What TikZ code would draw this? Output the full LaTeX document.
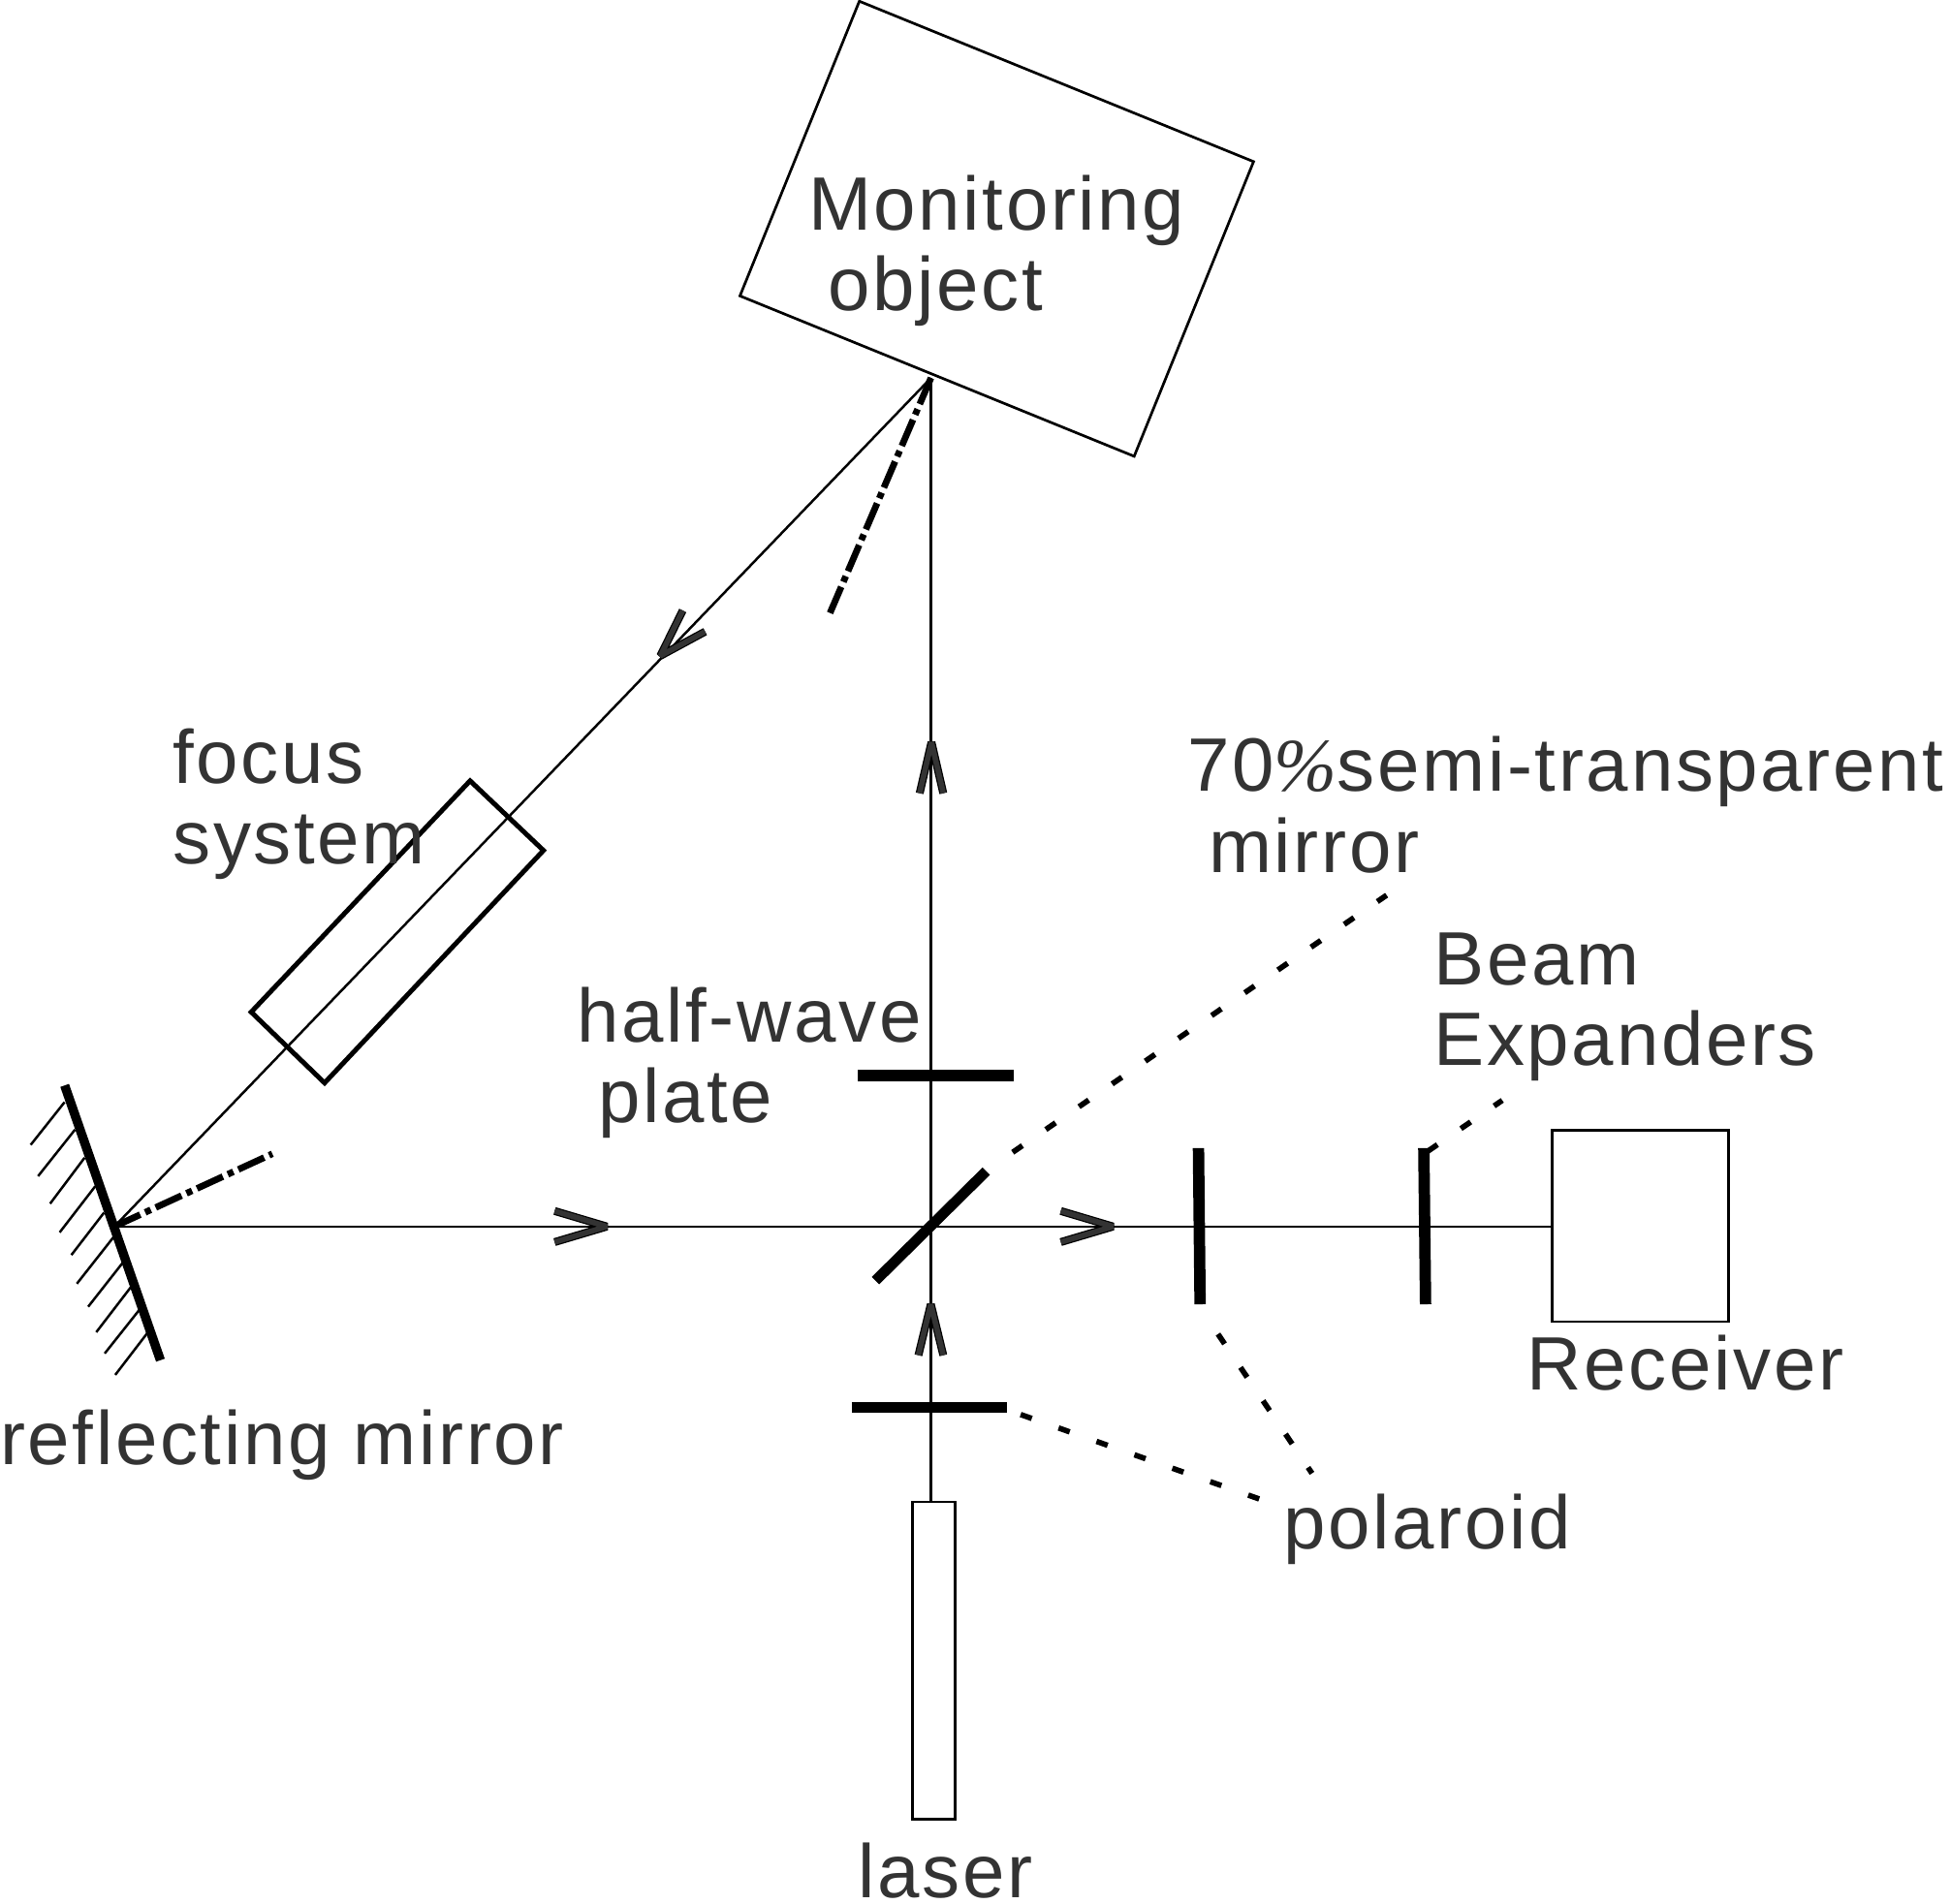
\documentclass[tikz,border=0pt]{standalone}
\usepackage{fontspec}
\setmainfont{Liberation Sans}[LetterSpace=3.4]
\newfontfamily\pctfont{Liberation Serif Italic}
\definecolor{txt}{HTML}{333333}
\tikzset{
  lab/.style={anchor=base west,inner sep=0pt,outer sep=0pt,text=txt,font=\fontsize{17.3pt}{20pt}\selectfont},
  thin line/.style={draw=black,line width=0.55pt},
  boxthin/.style={draw=black,line width=0.6pt,fill=none,inner sep=0pt,outer sep=0pt},
  boxfocus/.style={draw=black,line width=1.1pt,line join=miter},
  plate/.style={draw=black,line width=2.6pt},
  mirrorbar/.style={draw=black,line width=2.1pt},
  hatch/.style={draw=black,line width=0.55pt},
  dotleader/.style={draw=black,line width=1.25pt,dash pattern=on 2.7pt off 6.5pt},
  dashdot/.style={draw=black,line width=1.5pt,dash pattern=on 6.5pt off 1.25pt on 1.4pt off 1.25pt},
  vhead/.style={draw=black,line width=1.8pt,line join=bevel,postaction={draw=txt,line width=1.25pt,line join=bevel}},
}
\begin{document}
\begin{tikzpicture}[x=0.01cm,y=-0.01cm]
\useasboundingbox (0,0) rectangle (1568,1531);
% key points
\coordinate (P) at (748.6,304);
\coordinate (M) at (92,986.5);
\coordinate (S) at (748.6,986.5);
% boxes
\node[boxthin,minimum width=0.34cm,minimum height=2.55cm] (laserbox) at (751,1335.5) {};
\node[boxthin,minimum width=1.42cm,minimum height=1.54cm] (receiverbox) at (1319,986) {};
\coordinate (Lt) at (laserbox.north -| S);
\coordinate (Rw) at (receiverbox.west |- S);
\coordinate (ma) at (691,1); \coordinate (mb) at (1008,130);
\coordinate (mc) at (912,367); \coordinate (md) at (595,238);
\draw[boxthin] (ma) -- (mb) -- (mc) -- (md) -- cycle;
\coordinate (fa) at (378,628); \coordinate (fb) at (437,684);
\coordinate (fc) at (261,871); \coordinate (fd) at (202,814);
\draw[boxfocus] (fa) -- (fb) -- (fc) -- (fd) -- cycle;
% beams
\draw[thin line] (Lt) -- (P);
\draw[thin line] (P) -- (M);
\draw[thin line] (M) -- (Rw);
% dash-dot normals
\coordinate (n1) at (667,494); \coordinate (n2) at (219,928);
\draw[dashdot] (P) -- (n1);
\draw[dashdot] (M) -- (n2);
% mirror
\coordinate (ra) at (52,873); \coordinate (rb) at (129,1094);
\draw[mirrorbar] (ra) -- (rb);
\foreach \a/\b/\c/\d in {51.9/886.5/24.7/920.8,60.3/908.6/30.6/946,68/931.2/40.3/968.1,76.6/954.1/48/991.2,83.6/975.4/57.4/1009.4,91.4/994.9/61.8/1032.5,98.7/1015.6/70.9/1051,105.7/1034.6/77.4/1071.5,112.2/1053.3/84.2/1088.6,119/1071.5/92.7/1105.8}
  \draw[hatch] (\a,\b) -- (\c,\d);
% plates
\coordinate (ha) at (690,865); \coordinate (hb) at (815,865);
\draw[plate] (ha) -- (hb);
\coordinate (pa) at (685,1132); \coordinate (pb) at (810,1132);
\draw[plate] (pa) -- (pb);
\coordinate (sa) at (704,1030); \coordinate (sb) at (793,942);
\draw[plate,line width=2.4pt] (sa) -- (sb);
\coordinate (va) at (963.7,923.4); \coordinate (vb) at (965,1049);
\draw[plate] (va) -- (vb);
\coordinate (wa) at (1144.9,923.4); \coordinate (wb) at (1146.3,1049);
\draw[plate] (wa) -- (wb);
% leader lines
\coordinate (l1a) at (814.3,926.8); \coordinate (l1b) at (1115,720);
\draw[dotleader] (l1a) -- (l1b);
\coordinate (l2a) at (820.7,1137.7); \coordinate (l2b) at (1012.5,1205.6);
\draw[dotleader] (l2a) -- (l2b);
\coordinate (l3a) at (979.4,1073); \coordinate (l3b) at (1055,1185);
\draw[dotleader] (l3a) -- (l3b);
\coordinate (l4a) at (1148,926); \coordinate (l4b) at (1208,885);
\draw[dotleader] (l4a) -- (l4b);
% arrowheads
\draw[vhead] (739.5,638) -- (749,597) -- (758.5,638);
\draw[vhead] (738.5,1090) -- (748.5,1049) -- (758.5,1090);
\draw[vhead] (446,974) -- (488,986.5) -- (446,999);
\draw[vhead] (853,974) -- (895,986.5) -- (853,999);
\draw[vhead] (549,491) -- (531,527.5) -- (567,508);
% labels
\node[lab] (t1) at (650,185) {Monitoring};
\node[lab] (t2) at (666,250) {object};
\node[lab] (t3) at (139,630) {focus};
\node[lab] (t4) at (139,695) {system};
\node[lab] (t5) at (955,636) {70{\pctfont\%}semi-transparent};
\node[lab] (t6) at (972,702) {mirror};
\node[lab] (t7) at (1153,792) {Beam};
\node[lab] (t8) at (1153,857) {Expanders};
\node[lab] (t9) at (464,838) {half-wave};
\node[lab] (t10) at (481,903) {plate};
\node[lab] (t11) at (1228,1118) {Receiver};
\node[lab] (t12) at (0,1178) {reflecting mirror};
\node[lab] (t13) at (1032,1246) {polaroid};
\node[lab] (t14) at (690,1526) {laser};
\end{tikzpicture}
\end{document}
